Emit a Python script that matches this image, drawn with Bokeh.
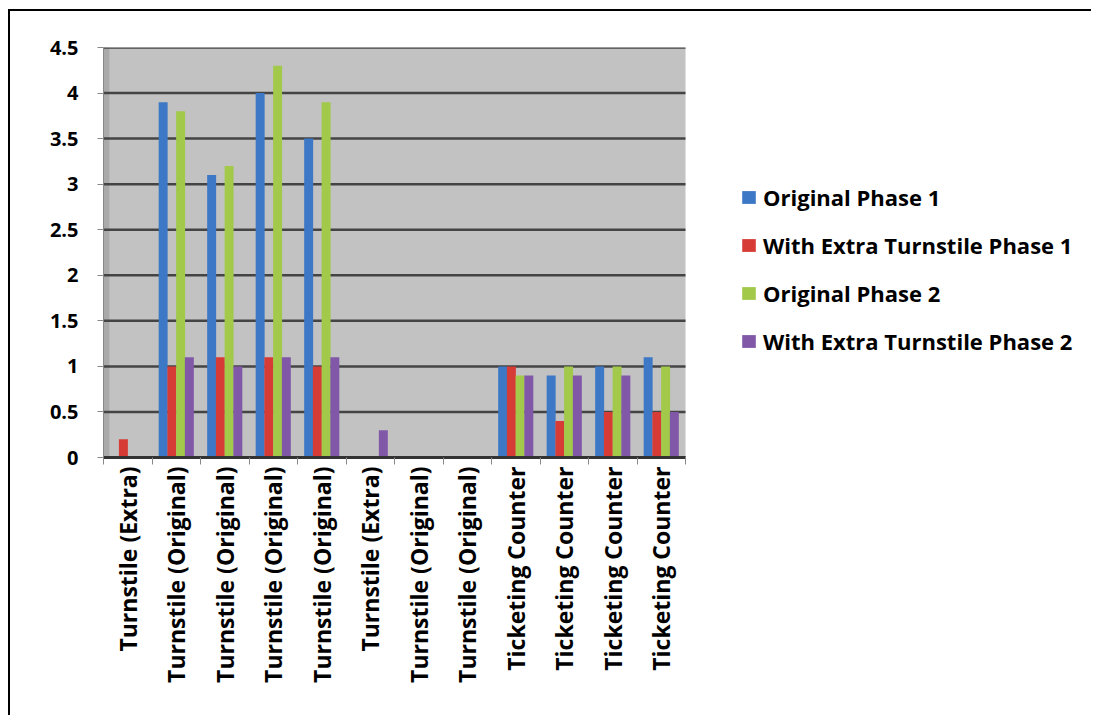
import math
from bokeh.plotting import figure
from bokeh.models import FixedTicker, Legend, LegendItem, ColumnDataSource, BoxAnnotation, Range1d
from bokeh.embed import file_html
from bokeh.resources import INLINE

categories = ["Turnstile (Extra)", "Turnstile (Original)", "Turnstile (Original)",
              "Turnstile (Original)", "Turnstile (Original)", "Turnstile (Extra)",
              "Turnstile (Original)", "Turnstile (Original)", "Ticketing Counter",
              "Ticketing Counter", "Ticketing Counter", "Ticketing Counter"]
series_names = ["Original Phase 1", "With Extra Turnstile Phase 1",
                "Original Phase 2", "With Extra Turnstile Phase 2"]
original_phase1 = [0, 3.9, 3.1, 4.0, 3.5, 0, 0, 0, 1.0, 0.9, 1.0, 1.1]
extra_phase1 = [0.2, 1.0, 1.1, 1.1, 1.0, 0, 0, 0, 1.0, 0.4, 0.5, 0.5]
original_phase2 = [0, 3.8, 3.2, 4.3, 3.9, 0, 0, 0, 0.9, 1.0, 1.0, 1.0]
extra_phase2 = [0, 1.1, 1.0, 1.1, 1.1, 0.3, 0, 0, 0.9, 0.9, 0.9, 0.5]
y_ticks = [0, 0.5, 1, 1.5, 2, 2.5, 3, 3.5, 4, 4.5]
y_tick_labels = ["0", "0.5", "1", "1.5", "2", "2.5", "3", "3.5", "4", "4.5"]

colors = ["#3D78C6", "#D63B36", "#A2C94A", "#8058A7"]
series = [original_phase1, extra_phase1, original_phase2, extra_phase2]
offsets = [-0.27, -0.09, 0.09, 0.27]
bar_w = 0.185

FONT = "Open Sans"

n = len(categories)
centers = [i + 0.5 for i in range(n)]
bounds = [float(i) for i in range(n + 1)]
y_max = y_ticks[-1]

# layout (pixels)
FIG_W, FIG_H = 1083, 706
LEFT, RIGHT, TOP, BOTTOM = 93, 0, 36, 260
PLOT_PX = 582  # width of the chart's plot area
frame_w = FIG_W - LEFT - RIGHT
x_end = n * frame_w / PLOT_PX

p = figure(width=FIG_W, height=FIG_H, output_backend="svg", toolbar_location=None,
           x_range=Range1d(0, x_end), y_range=Range1d(0, y_max),
           min_border_left=LEFT, min_border_top=TOP, min_border_right=RIGHT,
           min_border_bottom=BOTTOM)
p.margin = (9, 0, 0, 8)
p.styles = {"border-style": "solid none none solid", "border-width": "2px",
            "border-color": "#000000"}
p.background_fill_color = "white"
p.border_fill_color = "white"
p.outline_line_color = None

# plot-area wall
p.add_layout(BoxAnnotation(left=0, right=n, bottom=0, top=y_max, fill_color="#C2C2C2",
                           fill_alpha=1, line_color=None, level="underlay"))
# left 3D wall shading
p.add_layout(BoxAnnotation(left=0, right=0.12, bottom=0, top=y_max, fill_color="#9A9A9A",
                           fill_alpha=0.6, line_color=None, level="underlay"))

# gridlines restricted to the plot area
p.xgrid.visible = False
p.ygrid.visible = False
p.segment(x0=[0] * len(y_ticks), x1=[n] * len(y_ticks), y0=y_ticks, y1=y_ticks,
          line_color="#444444", line_width=2.5)

items = []
for name, vals, col, off in zip(series_names, series, colors, offsets):
    src = ColumnDataSource(dict(x=[c + off for c in centers], top=vals))
    r = p.vbar(x="x", top="top", bottom=0, width=bar_w, source=src,
               fill_color=col, line_color=None)
    items.append(LegendItem(label=name, renderers=[r]))

# y axis
p.yaxis.ticker = FixedTicker(ticks=y_ticks)
p.yaxis.major_label_overrides = {t: l for t, l in zip(y_ticks, y_tick_labels)}
p.yaxis.major_label_text_font = FONT
p.yaxis.major_label_text_font_style = "bold"
p.yaxis.major_label_text_font_size = "20px"
p.yaxis.major_label_text_color = "black"
p.yaxis.axis_line_color = "#888888"
p.yaxis.major_tick_line_color = "#888888"
p.yaxis.major_tick_out = 6
p.yaxis.major_tick_in = 0
p.yaxis.minor_tick_line_color = None
p.yaxis.major_label_standoff = 19

# x axis
p.xaxis.bounds = (0, n)
p.xaxis.ticker = FixedTicker(ticks=centers, minor_ticks=bounds)
p.xaxis.major_label_overrides = {c: l for c, l in zip(centers, categories)}
p.xaxis.major_label_orientation = math.pi / 2
p.xaxis.major_label_text_font = FONT
p.xaxis.major_label_text_font_style = "bold"
p.xaxis.major_label_text_font_size = "23px"
p.xaxis.major_label_text_color = "black"
p.xaxis.major_tick_line_color = None
p.xaxis.major_tick_out = 0
p.xaxis.major_tick_in = 0
p.xaxis.minor_tick_line_color = "#888888"
p.xaxis.minor_tick_out = 7
p.xaxis.minor_tick_in = 0
p.xaxis.axis_line_color = "#333333"
p.xaxis.axis_line_width = 3
p.xaxis.major_label_standoff = 2

legend = Legend(items=items, location=(637, 101))
legend.label_text_font = FONT
legend.label_text_font_style = "bold"
legend.label_text_font_size = "22px"
legend.label_text_color = "black"
legend.glyph_width = 17
legend.glyph_height = 16
legend.label_standoff = 6
legend.spacing = 18
legend.padding = 0
legend.margin = 0
legend.border_line_color = None
legend.background_fill_alpha = 0
p.add_layout(legend)

open("out.html", "w").write(file_html(p, INLINE))
